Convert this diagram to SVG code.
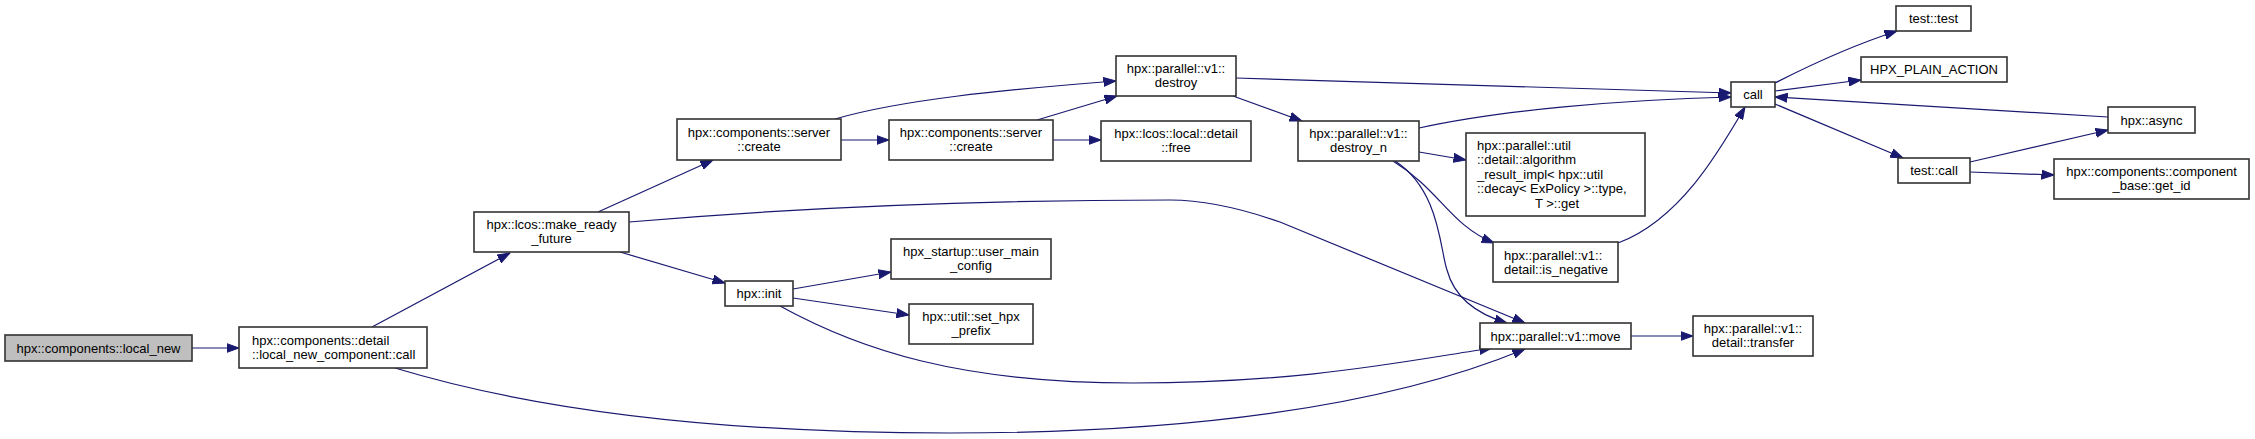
<svg xmlns="http://www.w3.org/2000/svg" width="2255" height="439" viewBox="0 0 2255 439">
<style>
.n rect{fill:#fff;stroke:#333;stroke-width:1.6}
.n.root rect{fill:#bfbfbf}
.n text{font-family:"Liberation Sans",Arial,sans-serif;font-size:13px;fill:#000}
.c{text-anchor:middle}
.e path{fill:none;stroke:#191970;stroke-width:1.2;marker-end:url(#ah)}
</style>
<defs>
<marker id="ah" markerUnits="userSpaceOnUse" markerWidth="13" markerHeight="10" viewBox="0 0 13 10" refX="12.5" refY="5" orient="auto">
<path d="M0,0.5 L12.5,5 L0,9.5 z" fill="#191970" stroke="#191970" stroke-width="1"/>
</marker>
</defs>
<rect width="2255" height="439" fill="#fff"/>
<g id="edges" class="e">
<path d="M192,348 L239,348"/>
<path d="M372,327 L510,253"/>
<path d="M395,368 C560,418 760,433 950,433 C1200,433 1390,405 1525,349"/>
<path d="M598,212 L713,160"/>
<path d="M629,222 C780,209 950,200 1170,200 C1200,200 1240,208 1280,222 L1525,323"/>
<path d="M620,252 L725,283"/>
<path d="M841,140 L889,140"/>
<path d="M835,119 C900,100 1000,90 1116,81"/>
<path d="M1037,120 L1117,96"/>
<path d="M1053,140 L1101,140"/>
<path d="M1236,78 L1731,93"/>
<path d="M1233,96 L1302,121"/>
<path d="M1419,128 C1500,110 1620,100 1731,97"/>
<path d="M1419,152 L1466,160"/>
<path d="M1393,161 C1440,190 1450,225 1494,243"/>
<path d="M1395,161 C1440,190 1440,250 1447,270 C1455,300 1480,315 1507,323"/>
<path d="M1618,243 C1680,220 1720,150 1745,107"/>
<path d="M793,289 L891,272"/>
<path d="M793,298 L909,315"/>
<path d="M780,306 C860,350 960,383 1133,383 C1300,383 1400,362 1492,348"/>
<path d="M1631,336 L1693,336"/>
<path d="M1775,83 C1820,60 1860,43 1897,31"/>
<path d="M1775,91 L1861,80"/>
<path d="M1775,104 L1903,158"/>
<path d="M1970,162 L2108,130"/>
<path d="M1970,172 L2054,175"/>
<path d="M2108,117 L1775,97"/>
</g>
<g id="local_new" class="n root"><rect x="5" y="335" width="187" height="26"/><text class="c" x="98.5" y="352.5">hpx::components::local_new</text></g>
<g id="lnc_call" class="n"><rect x="239" y="327" width="188" height="41"/><text x="252" y="344.5">hpx::components::detail</text><text x="252" y="359">::local_new_component::call</text></g>
<g id="make_ready_future" class="n"><rect x="474" y="212" width="155" height="40"/><text class="c" x="551.5" y="228.5">hpx::lcos::make_ready</text><text class="c" x="551.5" y="243">_future</text></g>
<g id="create1" class="n"><rect x="677" y="119" width="164" height="41"/><text class="c" x="759" y="136.5">hpx::components::server</text><text class="c" x="759" y="151">::create</text></g>
<g id="create2" class="n"><rect x="889" y="120" width="164" height="40"/><text class="c" x="971" y="136.5">hpx::components::server</text><text class="c" x="971" y="151">::create</text></g>
<g id="destroy" class="n"><rect x="1116" y="56" width="120" height="40"/><text class="c" x="1176" y="72.5">hpx::parallel::v1::</text><text class="c" x="1176" y="87">destroy</text></g>
<g id="free" class="n"><rect x="1101" y="121" width="150" height="40"/><text class="c" x="1176" y="137.5">hpx::lcos::local::detail</text><text class="c" x="1176" y="152">::free</text></g>
<g id="destroy_n" class="n"><rect x="1298" y="121" width="121" height="40"/><text class="c" x="1358.5" y="137.5">hpx::parallel::v1::</text><text class="c" x="1358.5" y="152">destroy_n</text></g>
<g id="algorithm_result" class="n"><rect x="1466" y="133" width="179" height="83"/><text x="1477" y="149.5">hpx::parallel::util</text><text x="1477" y="164">::detail::algorithm</text><text x="1477" y="178.5">_result_impl&lt; hpx::util</text><text x="1477" y="193">::decay&lt; ExPolicy &gt;::type,</text><text class="c" x="1557" y="207.5">T &gt;::get</text></g>
<g id="is_negative" class="n"><rect x="1493" y="242" width="125" height="40"/><text x="1504" y="259.5">hpx::parallel::v1::</text><text x="1504" y="274">detail::is_negative</text></g>
<g id="move" class="n"><rect x="1480" y="323" width="151" height="26"/><text class="c" x="1555.5" y="340.5">hpx::parallel::v1::move</text></g>
<g id="transfer" class="n"><rect x="1693" y="316" width="120" height="40"/><text class="c" x="1753" y="332.5">hpx::parallel::v1::</text><text class="c" x="1753" y="347">detail::transfer</text></g>
<g id="user_main_config" class="n"><rect x="891" y="239" width="160" height="40"/><text class="c" x="971" y="255.5">hpx_startup::user_main</text><text class="c" x="971" y="270">_config</text></g>
<g id="init" class="n"><rect x="725" y="281" width="68" height="25"/><text class="c" x="759" y="297.5">hpx::init</text></g>
<g id="set_hpx_prefix" class="n"><rect x="909" y="304" width="124" height="40"/><text class="c" x="971" y="320.5">hpx::util::set_hpx</text><text class="c" x="971" y="335">_prefix</text></g>
<g id="call" class="n"><rect x="1731" y="82" width="44" height="25"/><text class="c" x="1753" y="98.5">call</text></g>
<g id="test_test" class="n"><rect x="1896" y="6" width="75" height="25"/><text class="c" x="1933.5" y="22.5">test::test</text></g>
<g id="hpx_plain_action" class="n"><rect x="1861" y="57" width="146" height="25"/><text class="c" x="1934" y="73.5">HPX_PLAIN_ACTION</text></g>
<g id="async" class="n"><rect x="2108" y="107" width="87" height="26"/><text class="c" x="2151.5" y="124.5">hpx::async</text></g>
<g id="test_call" class="n"><rect x="1898" y="158" width="72" height="25"/><text class="c" x="1934" y="174.5">test::call</text></g>
<g id="get_id" class="n"><rect x="2054" y="159" width="195" height="40"/><text class="c" x="2151.5" y="175.5">hpx::components::component</text><text class="c" x="2151.5" y="190">_base::get_id</text></g>
</svg>
